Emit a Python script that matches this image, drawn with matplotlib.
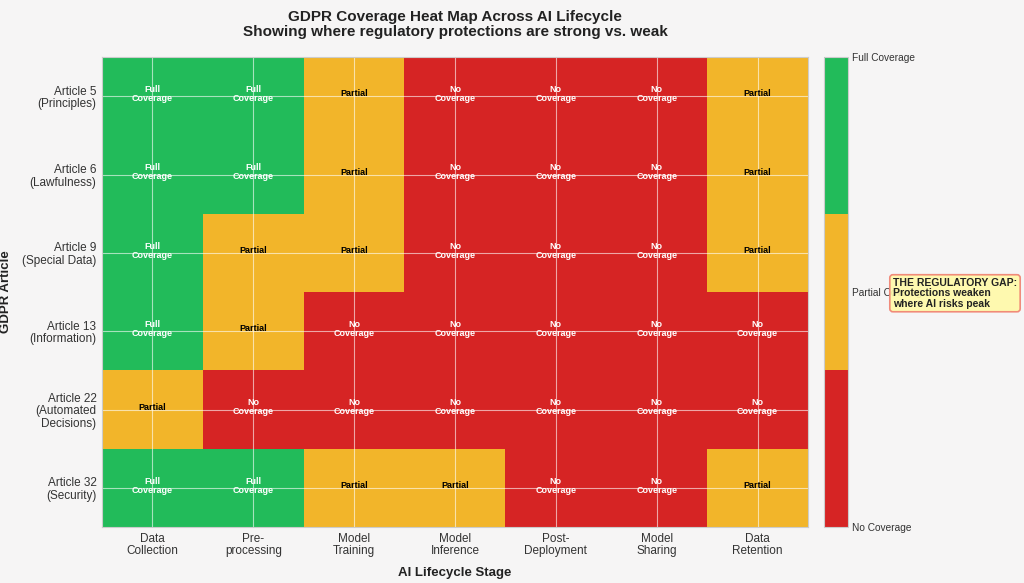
import matplotlib.pyplot as plt
import numpy as np
from matplotlib.colors import ListedColormap

# 0 = no coverage, 1 = partial, 2 = full
articles = ['Article 5\n(Principles)', 'Article 6\n(Lawfulness)', 'Article 9\n(Special Data)',
            'Article 13\n(Information)', 'Article 22\n(Automated\nDecisions)', 'Article 32\n(Security)']
stages = ['Data\nCollection', 'Pre-\nprocessing', 'Model\nTraining', 'Model\nInference',
          'Post-\nDeployment', 'Model\nSharing', 'Data\nRetention']
coverage = [
    [2, 2, 1, 0, 0, 0, 1],
    [2, 2, 1, 0, 0, 0, 1],
    [2, 1, 1, 0, 0, 0, 1],
    [2, 1, 0, 0, 0, 0, 0],
    [1, 0, 0, 0, 0, 0, 0],
    [2, 2, 1, 1, 0, 0, 1],
]
level_names = ['No Coverage', 'Partial Coverage', 'Full Coverage']
cell_text = {0: 'No\nCoverage', 1: 'Partial', 2: 'Full\nCoverage'}

bg = '#f6f5f5'
plt.rcParams['font.family'] = ['Liberation Sans', 'DejaVu Sans']

fig = plt.figure(figsize=(10.24, 5.83), dpi=100, facecolor=bg)
ax = fig.add_axes([0.0996, 0.096, 0.6894, 0.806])
cax = fig.add_axes([0.805, 0.096, 0.023, 0.806])
ax.set_facecolor(bg)

cmap = ListedColormap(['#d62424', '#f2b52a', '#22bb5a'])
data = np.array(coverage)
im = ax.imshow(data, cmap=cmap, vmin=0, vmax=2, aspect='auto', interpolation='nearest')

for i in range(data.shape[0]):
    for j in range(data.shape[1]):
        v = data[i, j]
        ax.text(j, i - 0.03, cell_text[v], ha='center', va='center', fontsize=6.5, fontweight='bold',
                color='black' if v == 1 else 'white', linespacing=1.0)

ax.set_xticks(range(len(stages)))
ax.set_xticklabels(stages, fontsize=8.5, color='#333333', linespacing=1.05)
ax.set_yticks(range(len(articles)))
ax.set_yticklabels(articles, fontsize=8.5, color='#333333', linespacing=1.05)
ax.tick_params(length=0, pad=4)
ax.grid(True, color='white', alpha=0.6, linewidth=0.8)
for s in ax.spines.values():
    s.set_color('#cccccc')
    s.set_linewidth(0.8)

ax.set_xlabel('AI Lifecycle Stage', fontsize=9.5, fontweight='bold', color='#222222', labelpad=7)
ax.set_ylabel('GDPR Article', fontsize=9.5, fontweight='bold', color='#222222')
ax.yaxis.set_label_coords(-0.127, 0.5)
ax.set_title('GDPR Coverage Heat Map Across AI Lifecycle\nShowing where regulatory protections are strong vs. weak',
             fontsize=11, fontweight='bold', color='#222222', pad=15, linespacing=1.15)

cb = fig.colorbar(im, cax=cax)
cb.set_ticks([0, 1, 2])
cb.set_ticklabels(level_names)
cb.ax.tick_params(length=0, labelsize=7.3, labelcolor='#333333', pad=3)
cb.outline.set_edgecolor('#cccccc')
cb.outline.set_linewidth(0.8)

fig.text(0.872, 0.497, 'THE REGULATORY GAP:\nProtections weaken\nwhere AI risks peak',
         fontsize=7.5, fontweight='bold', color='#222222', ha='left', va='center', linespacing=1.05,
         bbox=dict(boxstyle='round,pad=0.3', facecolor='#fffaa8', edgecolor='#f08070', linewidth=1.2, alpha=0.9))

fig.savefig('out.png', dpi=100, facecolor=bg)
